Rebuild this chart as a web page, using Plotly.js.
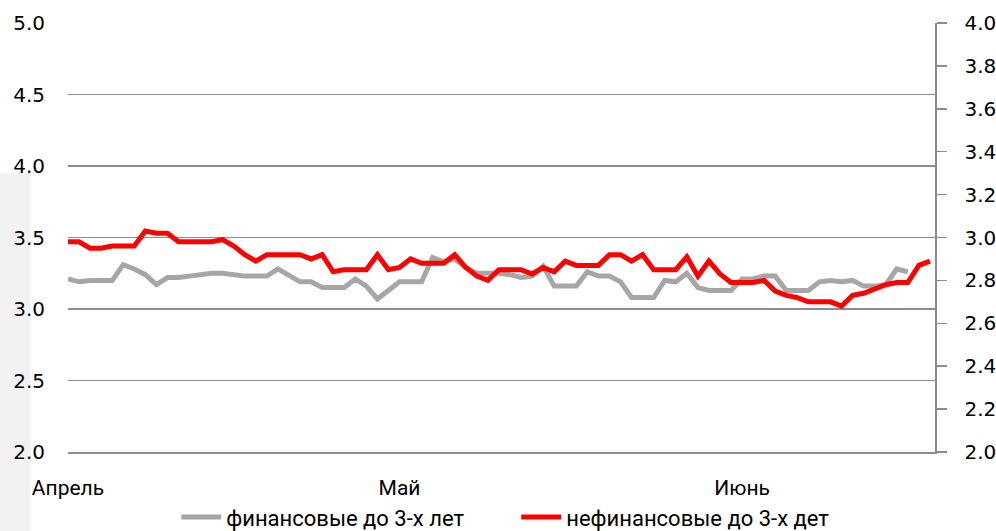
<!DOCTYPE html>
<html>
<head>
<meta charset="utf-8">
<script src="https://cdn.plot.ly/plotly-3.0.1.min.js"></script>
<style>
html,body{margin:0;padding:0;background:#fff;}
#chart{width:996px;height:531px;}
</style>
</head>
<body>
<div id="chart"></div>
<script>
// daily series starting 1 April
var startDate = '2013-04-01';
var monthTicks = ['2013-04-01', '2013-05-01', '2013-06-01'];
var monthLabels = ['Апрель', 'Май', 'Июнь'];

// финансовые до 3-х лет (left axis)
var financial = [3.21,3.19,3.20,3.20,3.20,3.31,3.28,3.24,3.17,3.22,
  3.22,3.23,3.24,3.25,3.25,3.24,3.23,3.23,3.23,3.28,
  3.23,3.19,3.19,3.15,3.15,3.15,3.21,3.16,3.07,3.13,
  3.19,3.19,3.19,3.36,3.33,3.35,3.29,3.25,3.25,3.25,
  3.24,3.22,3.23,3.30,3.16,3.16,3.16,3.26,3.23,3.23,
  3.19,3.08,3.08,3.08,3.20,3.19,3.25,3.15,3.13,3.13,
  3.13,3.21,3.21,3.23,3.23,3.13,3.13,3.13,3.19,3.20,
  3.19,3.20,3.16,3.16,3.17,3.28,3.26];

// нефинансовые до 3-х лет (right axis)
var nonFinancial = [2.98,2.98,2.95,2.95,2.96,2.96,2.96,3.03,3.02,3.02,
  2.98,2.98,2.98,2.98,2.99,2.96,2.92,2.89,2.92,2.92,
  2.92,2.92,2.90,2.92,2.84,2.85,2.85,2.85,2.92,2.85,
  2.86,2.90,2.88,2.88,2.88,2.92,2.86,2.82,2.80,2.85,
  2.85,2.85,2.83,2.86,2.84,2.89,2.87,2.87,2.87,2.92,
  2.92,2.89,2.92,2.85,2.85,2.85,2.91,2.82,2.89,2.83,
  2.79,2.79,2.79,2.80,2.75,2.73,2.72,2.70,2.70,2.70,
  2.68,2.73,2.74,2.76,2.78,2.79,2.79,2.87,2.89];

var seriesNames = ['финансовые до 3-х лет', 'нефинансовые до 3-х дет'];

var DAY = 86400000;
var traces = [
  {type:'scatter', mode:'lines', name:seriesNames[0], x0:startDate, dx:DAY, y:financial,
   line:{color:'#a6a6a6', width:5}, yaxis:'y'},
  {type:'scatter', mode:'lines', name:seriesNames[1], x0:startDate, dx:DAY, y:nonFinancial,
   line:{color:'#ff0000', width:5}, yaxis:'y2'}
];

var tickFont = {family:'DejaVu Sans, sans-serif', size:20, color:'#000'};
var layout = {
  width:996, height:531,
  margin:{l:68, r:61, t:23, b:79, pad:0},
  paper_bgcolor:'#fff', plot_bgcolor:'rgba(0,0,0,0)',
  showlegend:true,
  legend:{orientation:'h', xref:'paper', x:0.517, xanchor:'center', yref:'container', y:0.026, yanchor:'middle',
    font:{family:'Roboto, sans-serif', size:22, color:'#000'}, itemwidth:40, traceorder:'normal',
    entrywidth:285, entrywidthmode:'pixels', bgcolor:'rgba(0,0,0,0)'},
  xaxis:{type:'date', range:['2013-04-01', '2013-06-18 11:00'], showgrid:false, zeroline:false,
    showline:true, linecolor:'#8c8c8c', linewidth:1.5, ticks:'', tickmode:'array', tickvals:monthTicks, ticktext:monthLabels,
    tickfont:{family:'Roboto, sans-serif', size:21, color:'#000'}, ticklabelstandoff:16, fixedrange:true},
  yaxis:{range:[2,5], dtick:0.5, tick0:2, tickformat:'.1f', showgrid:true, gridcolor:'#8c8c8c', gridwidth:1.5,
    zeroline:false, showline:false, ticks:'', tickfont:tickFont, ticklabelstandoff:22},
  yaxis2:{range:[2,4], dtick:0.2, tick0:2, tickformat:'.1f', overlaying:'y', side:'right', showgrid:false,
    zeroline:false, showline:true, linecolor:'#8c8c8c', linewidth:1.5, ticks:'outside', ticklen:10,
    tickcolor:'#8c8c8c', tickwidth:1.5, tickfont:tickFont, ticklabelstandoff:14},
  shapes:[
    {type:'rect', xref:'paper', yref:'paper', x0:-0.0785, x1:-0.043, y0:-0.185, y1:0.65,
     fillcolor:'#f2f2f2', line:{width:0}, layer:'below'}
  ]
};

Plotly.newPlot('chart', traces, layout, {displayModeBar:false, staticPlot:true});
</script>
</body>
</html>
